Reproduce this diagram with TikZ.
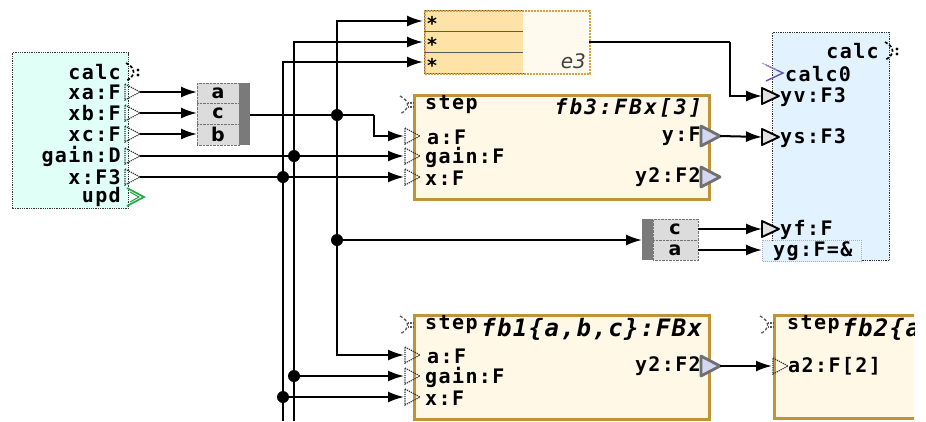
\documentclass[tikz,border=0pt]{standalone}
\usepackage{fontspec}
\usetikzlibrary{arrows.meta}
\newfontfamily\monof[LetterSpace=7]{DejaVu Sans Mono}
\newfontfamily\monot[LetterSpace=11]{DejaVu Sans Mono}
\newfontfamily\monob[LetterSpace=6]{DejaVu Sans Mono}
\newfontfamily\sansf{DejaVu Sans}
\definecolor{lfill}{HTML}{E0FFF7}
\definecolor{rfill}{HTML}{E2F3FF}
\definecolor{erow}{HTML}{FFE3A6}
\definecolor{epale}{HTML}{FFF9EE}
\definecolor{eedge}{HTML}{D9A040}
\definecolor{fbfill}{HTML}{FFF8E6}
\definecolor{fbedge}{HTML}{C0923A}
\definecolor{muxfill}{HTML}{DCDCDC}
\definecolor{muxbar}{HTML}{7A7A7A}
\definecolor{otfill}{HTML}{D4D6F2}
\definecolor{otedge}{HTML}{707070}
\definecolor{updgreen}{HTML}{22AA44}
\definecolor{calcpurple}{HTML}{6655AA}
\definecolor{ygedge}{HTML}{A8A8E0}
\tikzset{
  wire/.style={line width=2pt, black},
  arr/.style={wire, -{Latex[length=16pt,width=11pt]}},
  jdot/.style={circle, fill=black, inner sep=0pt, minimum size=12pt},
  lbl/.style={inner sep=0pt, font=\monof\bfseries\fontsize{20}{20}\selectfont},
  ttl/.style={inner sep=0pt, font=\monot\bfseries\itshape\fontsize{21}{21}\selectfont},
  bigttl/.style={inner sep=0pt, font=\monob\bfseries\itshape\fontsize{24}{24}\selectfont},
  muxlbl/.style={inner sep=0pt, font=\sansf\bfseries\fontsize{19}{19}\selectfont},
  fbbox/.style={draw=fbedge, line width=2.5pt, fill=fbfill, inner sep=0pt, anchor=north west},
  inport/.pic={\draw[densely dotted, black!80, line width=1.2pt] (0,-8) -- (15,0) -- (0,8) -- cycle;},
  outport/.pic={\draw[line width=2.8pt, draw=otedge, fill=otfill, line join=round] (0,-10) -- (19,0) -- (0,10) -- cycle;},
  rxport/.pic={\draw[line width=1.9pt, black, fill=black!12, line join=round] (0,-8) -- (17,0) -- (0,8) -- cycle;},
  stepmark/.pic={\draw[black!65, densely dashed, line width=1.3pt] (-3,-9) .. controls (7,-4) and (7,4) .. (-3,9);
                 \draw[black!65, densely dotted, line width=1.3pt] (5,-2) -- (10,-2) (5,2) -- (10,2);},
  calcmark/.pic={\draw[black, densely dashed, line width=1.7pt] (0,-9) .. controls (10,-4) and (10,4) .. (0,9);
                 \fill[black] (12,-2) circle (1.6pt) (12,3) circle (1.6pt);}
}
\begin{document}
\begin{tikzpicture}[x=1pt,y=-1pt]
\useasboundingbox (0,0) rectangle (926,421);

% ---------- left block ----------
\node[draw=black!80, densely dotted, line width=1.3pt, fill=lfill, inner sep=0pt, anchor=north west,
      minimum width=116pt, minimum height=156pt] (L) at (12,52) {};
\node[lbl, anchor=east] (tcalc) at (121,72) {calc};
\node[lbl, anchor=east] (txa) at (121,92) {xa:F};
\node[lbl, anchor=east] (txb) at (121,113) {xb:F};
\node[lbl, anchor=east] (txc) at (121,134) {xc:F};
\node[lbl, anchor=east] (tgain) at (121,156) {gain:D};
\node[lbl, anchor=east] (tx) at (121,177) {x:F3};
\node[lbl, anchor=east] (tupd) at (121,197) {upd};
\pic at (126,72) {calcmark};
\foreach \yy in {92,113,134,156,177} { \pic at (125,\yy) {inport}; }
\draw[updgreen, line width=1.7pt] (127,188) -- (144,197) -- (127,206);
\draw[updgreen, line width=1.1pt] (130,192) -- (139,197) -- (130,202);
\coordinate (Lxa) at (140,92);
\coordinate (Lxb) at (140,113);
\coordinate (Lxc) at (140,134);
\coordinate (Lgain) at (140,156);
\coordinate (Lx) at (140,177);

% ---------- mux 1 ----------
\node[draw=black!55, densely dotted, fill=muxfill, inner sep=0pt, anchor=north west,
      minimum width=42pt, minimum height=62pt] (M1) at (197,83) {};
\draw[black!55, densely dotted] (197,103) -- (239,103) (197,124) -- (239,124);
\node[fill=muxbar, inner sep=0pt, anchor=north west, minimum width=11pt, minimum height=62pt] (M1bar) at (239,83) {};
\node[muxlbl] (m1a) at (218,93) {a};
\node[muxlbl] (m1c) at (218,113.5) {c};
\node[muxlbl] (m1b) at (218,134.5) {b};
\coordinate (M1a) at (197,92);
\coordinate (M1c) at (197,113);
\coordinate (M1b) at (197,134);
\coordinate (M1out) at (250,115);

% ---------- e3 ----------
\foreach \yy in {10,31,52} {
  \draw[black!65, line width=0.8pt, fill=erow] (424,\yy) rectangle (523,\yy+21);
}
\fill[epale] (523,10) rectangle (589,73);
\node[draw=eedge, densely dotted, line width=2pt, inner sep=0pt, anchor=north west,
      minimum width=165pt, minimum height=63pt] (E3) at (424,10) {};
\node[muxlbl, anchor=west] (s1) at (427,23) {*};
\node[muxlbl, anchor=west] (s2) at (427,44) {*};
\node[muxlbl, anchor=west] (s3) at (427,65) {*};
\node[inner sep=0pt, anchor=east, font=\sansf\itshape\fontsize{20}{20}\selectfont, text=black!75] (te3) at (586,61) {e3};
\coordinate (E3r1) at (423,21);
\coordinate (E3r2) at (423,42);
\coordinate (E3r3) at (423,62);
\coordinate (E3out) at (589,42);

% ---------- fb3 ----------
\node[fbbox, minimum width=295pt, minimum height=104pt] (FB3) at (413,94) {};
\pic at (403,105) {stepmark};
\node[lbl, anchor=west] (f3step) at (425,105) {step};
\node[ttl, anchor=east] (f3t) at (702,108) {fb3:FBx[3]};
\node[lbl, anchor=west] (f3a) at (427,137) {a:F};
\node[lbl, anchor=west] (f3g) at (425,157) {gain:F};
\node[lbl, anchor=west] (f3x) at (425,178) {x:F};
\node[lbl, anchor=east] (f3y) at (701,136) {y:F};
\node[lbl, anchor=east] (f3y2) at (701,177) {y2:F2};
\foreach \yy in {136,156,177} { \pic at (405,\yy) {inport}; }
\pic at (701,136) {outport};
\pic at (701,177) {outport};
\coordinate (F3a) at (404,136);
\coordinate (F3g) at (404,156);
\coordinate (F3x) at (404,177);
\coordinate (F3yout) at (720,136);

% ---------- right block ----------
\node[draw=black!80, densely dotted, line width=1.3pt, fill=rfill, inner sep=0pt, anchor=north west,
      minimum width=117pt, minimum height=228pt] (R) at (772,32) {};
\node[lbl, anchor=east] (rcalc) at (879,51) {calc};
\pic at (885,51) {calcmark};
\draw[calcpurple, line width=1.4pt] (766,65) -- (783,73) -- (766,81);
\draw[calcpurple!60, line width=0.8pt] (762,63) -- (777,70);
\node[lbl, anchor=west] (rcalc0) at (785,74) {calc0};
\node[lbl, anchor=west] (ryv) at (780,97) {yv:F3};
\node[lbl, anchor=west] (rys) at (780,138) {ys:F3};
\node[lbl, anchor=west] (ryf) at (780,230) {yf:F};
\node[draw=ygedge, densely dotted, line width=1pt, fill=rfill, inner sep=0pt, anchor=north west,
      minimum width=99pt, minimum height=21pt] (YGbox) at (762,240) {};
\node[lbl, anchor=west] (ryg) at (773,251) {yg:F=\&};
\pic at (762,96) {rxport};
\pic at (762,137) {rxport};
\pic at (762,229) {rxport};
\coordinate (Ryv) at (762,96);
\coordinate (Rys) at (762,137);
\coordinate (Ryf) at (762,229);
\coordinate (Ryg) at (762,250);

% ---------- mux 2 ----------
\node[fill=muxbar, inner sep=0pt, anchor=north west, minimum width=11pt, minimum height=41pt] (M2bar) at (642,219) {};
\node[draw=black!55, densely dotted, fill=muxfill, inner sep=0pt, anchor=north west,
      minimum width=45pt, minimum height=41pt] (M2) at (653,219) {};
\draw[black!55, densely dotted] (653,240) -- (698,240);
\node[muxlbl] (m2c) at (675,229) {c};
\node[muxlbl] (m2a) at (675,250) {a};
\coordinate (M2in) at (642,240);
\coordinate (M2c) at (698,229);
\coordinate (M2a) at (698,250);

% ---------- fb1 ----------
\node[fbbox, minimum width=295pt, minimum height=104pt] (FB1) at (413,314) {};
\pic at (403,325) {stepmark};
\node[lbl, anchor=west] (f1step) at (425,325) {step};
\node[bigttl, anchor=west] (f1t) at (481,329) {fb1\{a,b,c\}:FBx};
\node[lbl, anchor=west] (f1a) at (427,356) {a:F};
\node[lbl, anchor=west] (f1g) at (425,377) {gain:F};
\node[lbl, anchor=west] (f1x) at (425,398) {x:F};
\node[lbl, anchor=east] (f1y2) at (701,366) {y2:F2};
\foreach \yy in {355,376,397} { \pic at (405,\yy) {inport}; }
\pic at (701,366) {outport};
\coordinate (F1a) at (404,355);
\coordinate (F1g) at (404,376);
\coordinate (F1x) at (404,397);
\coordinate (F1y2) at (720,366);

% ---------- fb2 (cut off at the right) ----------
\begin{scope}
\clip (740,300) rectangle (914,421);
\node[fbbox, minimum width=190pt, minimum height=103pt] (FB2) at (773,314) {};
\pic at (763,325) {stepmark};
\node[lbl, anchor=west] (f2step) at (787,325) {step};
\node[bigttl, anchor=west] (f2t) at (842,329) {fb2\{a};
\node[lbl, anchor=west] (f2a) at (788,366) {a2:F[2]};
\end{scope}
\pic at (773,366) {inport};
\coordinate (F2a) at (772,366);

% ---------- junctions ----------
\node[jdot] (j1) at (337,115) {};
\node[jdot] (j2) at (294,156) {};
\node[jdot] (j3) at (283,177) {};
\node[jdot] (j4) at (337,240) {};
\node[jdot] (j5) at (294,376) {};
\node[jdot] (j6) at (283,397) {};
\coordinate (b2) at (294,421);
\coordinate (b3) at (283,421);
\coordinate (bend1) at (374,115);
\coordinate (bendE) at (730,42);

% ---------- wires ----------
\draw[arr] (Lxa) -- (M1a);
\draw[arr] (Lxb) -- (M1c);
\draw[arr] (Lxc) -- (M1b);
\draw[arr] (Lgain) -- (F3g);
\draw[arr] (Lx) -- (F3x);
\draw[wire] (M1out) -- (j1) -- (bend1);
\draw[arr] (bend1) |- (F3a);
\draw[arr] (j1) |- (E3r1);
\draw[arr] (j2) |- (E3r2);
\draw[arr] (j3) |- (E3r3);
\draw[wire] (j1) -- (j4);
\draw[arr] (j4) |- (F1a);
\draw[arr] (j4) -- (M2in);
\draw[wire] (j2) -- (j5) -- (b2);
\draw[wire] (j3) -- (j6) -- (b3);
\draw[arr] (j5) -- (F1g);
\draw[arr] (j6) -- (F1x);
\draw[wire] (E3out) -- (bendE);
\draw[arr] (bendE) |- (Ryv);
\draw[arr] (F3yout) -- (Rys);
\draw[arr] (M2c) -- (Ryf);
\draw[arr] (M2a) -- (Ryg);
\draw[arr] (F1y2) -- (F2a);
\end{tikzpicture}
\end{document}
